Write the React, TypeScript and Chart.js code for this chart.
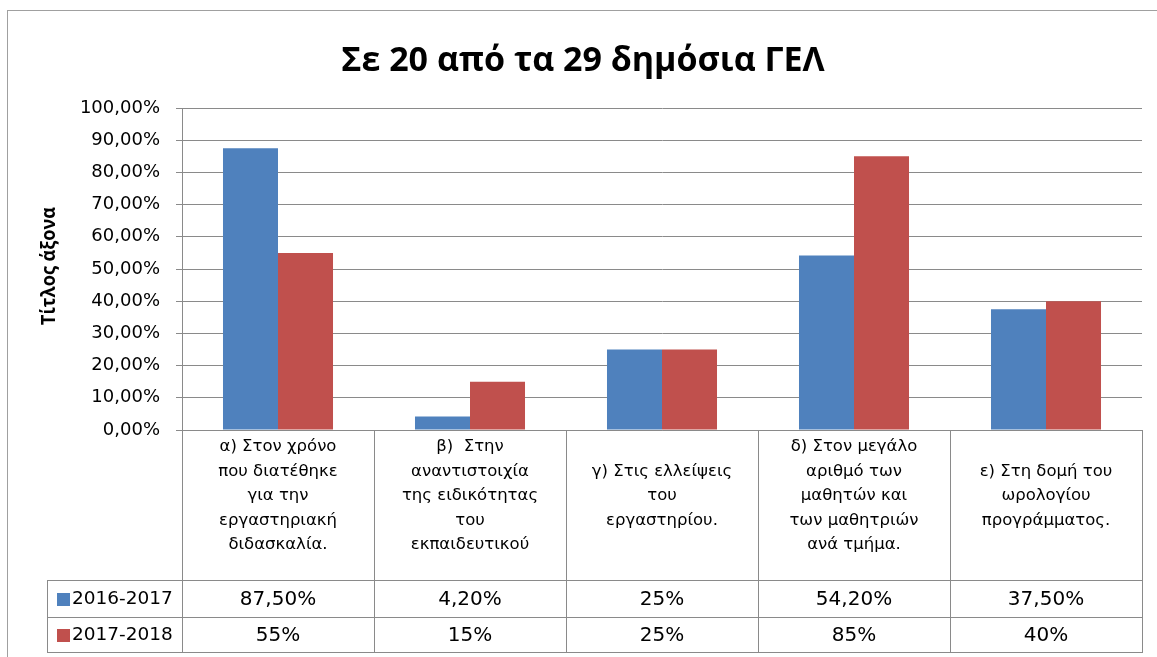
import React, { useEffect, useRef } from 'react';
import { Chart, registerables } from 'chart.js';

Chart.register(...registerables);

const chartTitle = 'Σε 20 από τα 29 δημόσια ΓΕΛ';
const yAxisTitle = 'Τίτλος άξονα';

const categories: string[][] = [
  ['α) Στον χρόνο', 'που διατέθηκε', 'για την', 'εργαστηριακή', 'διδασκαλία.'],
  ['β)  Στην', 'αναντιστοιχία', 'της ειδικότητας', 'του', 'εκπαιδευτικού'],
  ['γ) Στις ελλείψεις', 'του', 'εργαστηρίου.'],
  ['δ) Στον μεγάλο', 'αριθμό των', 'μαθητών και', 'των μαθητριών', 'ανά τμήμα.'],
  ['ε) Στη δομή του', 'ωρολογίου', 'προγράμματος.'],
];

const seriesNames = ['2016-2017', '2017-2018'];
const seriesColors = ['#4F81BD', '#C0504D'];

const values2016 = [87.5, 4.2, 25, 54.2, 37.5];
const values2017 = [55, 15, 25, 85, 40];

const tableLabels2016 = ['87,50%', '4,20%', '25%', '54,20%', '37,50%'];
const tableLabels2017 = ['55%', '15%', '25%', '85%', '40%'];

const yMin = 0;
const yMax = 100;
const yStep = 10;

const formatTick = (v: number) => v.toFixed(2).replace('.', ',') + '%';

const GRID = '#8a8a8a';

const excelPlugin = {
  id: 'excelExtras',
  beforeDraw(chart: any) {
    const { ctx } = chart;
    ctx.save();
    // frame
    ctx.strokeStyle = '#a0a0a0';
    ctx.lineWidth = 1;
    ctx.strokeRect(7.5, 10.5, 1200, 700);
    // title
    ctx.fillStyle = '#000';
    ctx.font = 'bold 34px "Open Sans"';
    ctx.textAlign = 'center';
    ctx.textBaseline = 'middle';
    ctx.fillText(chartTitle, 583, 61, 502);
    // y-axis title
    const ca = chart.chartArea;
    ctx.translate(50, (ca.top + ca.bottom) / 2 - 3);
    ctx.rotate(-Math.PI / 2);
    ctx.font = 'bold 19px "Open Sans"';
    ctx.fillText(yAxisTitle, 0, 0, 118);
    ctx.restore();
  },
  afterDraw(chart: any) {
    const { ctx, chartArea } = chart;
    const xs = chart.scales.x;
    const n = categories.length;
    const colW = (chartArea.right - chartArea.left) / n;
    const top = Math.round(chartArea.bottom);
    const headerBottom = top + 150;
    const row1Bottom = headerBottom + 37;
    const row2Bottom = row1Bottom + 35;
    const legendLeft = 47;
    const right = Math.round(chartArea.right);
    const left = Math.round(chartArea.left);

    ctx.save();
    ctx.strokeStyle = GRID;
    ctx.lineWidth = 1;
    ctx.beginPath();
    const hl = (x1: number, x2: number, yy: number) => {
      ctx.moveTo(x1, yy + 0.5);
      ctx.lineTo(x2, yy + 0.5);
    };
    const vl = (xx: number, y1: number, y2: number) => {
      ctx.moveTo(Math.round(xx) + 0.5, y1);
      ctx.lineTo(Math.round(xx) + 0.5, y2);
    };
    hl(left, right + 1, top);
    hl(legendLeft, right + 1, headerBottom);
    hl(legendLeft, right + 1, row1Bottom);
    hl(legendLeft, right + 1, row2Bottom);
    vl(legendLeft, headerBottom, row2Bottom + 1);
    for (let i = 0; i <= n; i++) {
      const cx = i < n ? xs.getPixelForValue(i) - colW / 2 : xs.getPixelForValue(n - 1) + colW / 2;
      vl(cx, top, row2Bottom + 1);
    }
    ctx.stroke();

    ctx.fillStyle = '#000';
    ctx.textAlign = 'center';
    ctx.textBaseline = 'middle';
    // category labels
    ctx.font = '16.5px "DejaVu Sans"';
    const lineH = 24.5;
    const midY = top + 66;
    categories.forEach((lines, i) => {
      const cx = xs.getPixelForValue(i);
      const y0 = midY - ((lines.length - 1) * lineH) / 2;
      lines.forEach((ln, j) => ctx.fillText(ln, cx, y0 + j * lineH, colW - 8));
    });
    // values
    ctx.font = '20px "DejaVu Sans"';
    const r1 = (headerBottom + row1Bottom) / 2 + 1;
    const r2 = (row1Bottom + row2Bottom) / 2 + 1;
    tableLabels2016.forEach((t, i) => ctx.fillText(t, xs.getPixelForValue(i), r1));
    tableLabels2017.forEach((t, i) => ctx.fillText(t, xs.getPixelForValue(i), r2));
    // legend keys
    ctx.textAlign = 'left';
    ctx.font = '18.5px "DejaVu Sans"';
    [r1, r2].forEach((ry, k) => {
      ctx.fillStyle = seriesColors[k];
      ctx.fillRect(57, Math.round(ry - 7), 13, 13);
      ctx.fillStyle = '#000';
      ctx.fillText(seriesNames[k], 72, ry);
    });
    ctx.restore();
  },
};

export default function App() {
  const ref = useRef<HTMLCanvasElement | null>(null);

  useEffect(() => {
    if (!ref.current) return;
    const chart = new Chart(ref.current, {
      type: 'bar',
      data: {
        labels: categories.map((c) => c.join(' ')),
        datasets: [
          {
            label: seriesNames[0],
            data: values2016,
            backgroundColor: seriesColors[0],
            borderWidth: 0,
            barPercentage: 1,
            categoryPercentage: 0.573,
          },
          {
            label: seriesNames[1],
            data: values2017,
            backgroundColor: seriesColors[1],
            borderWidth: 0,
            barPercentage: 1,
            categoryPercentage: 0.573,
          },
        ],
      },
      options: {
        animation: false,
        responsive: true,
        maintainAspectRatio: false,
        devicePixelRatio: 1,
        layout: { padding: { top: 108, right: 15, bottom: 227, left: 0 } },
        plugins: {
          legend: { display: false },
          title: { display: false },
          tooltip: { enabled: false },
        },
        scales: {
          x: { display: false },
          y: {
            min: yMin,
            max: yMax,
            ticks: {
              stepSize: yStep,
              callback: (v: any) => formatTick(Number(v)),
              color: '#000',
              font: { family: '"DejaVu Sans"', size: 18 },
              padding: 16,
            },
            grid: { color: GRID, tickLength: 6, lineWidth: 1 },
            border: { display: true, color: GRID },
            afterFit: (scale: any) => {
              scale.width = 182;
            },
          },
        },
      },
      plugins: [excelPlugin],
    });
    return () => chart.destroy();
  }, []);

  return (
    <div style={{ position: 'absolute', left: 0, top: 0, width: 1157, height: 657, background: '#fff' }}>
      <canvas ref={ref} />
    </div>
  );
}
